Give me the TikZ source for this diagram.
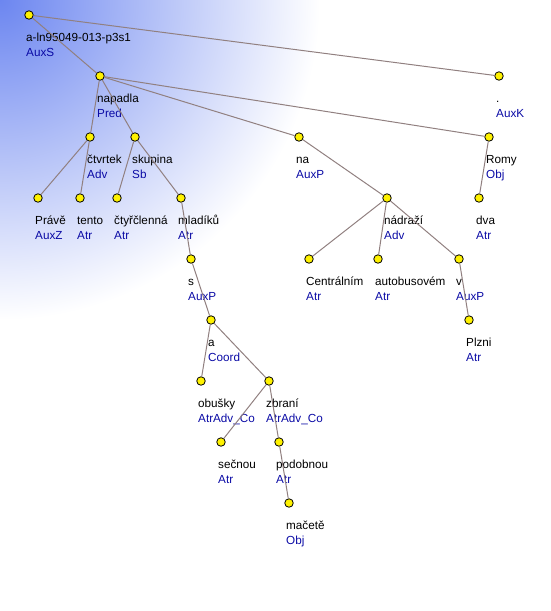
\documentclass[tikz,border=0pt]{standalone}
\usepackage{fontspec}
\setmainfont{Liberation Sans}
\usepackage{tikz}
\usetikzlibrary{calc}
\definecolor{glowblue}{RGB}{108,134,240}
\definecolor{funcblue}{RGB}{10,10,165}
\definecolor{edgegray}{RGB}{145,128,128}
\tikzset{>=latex}
\tikzset{
  tnode/.style={circle,draw=black,fill=yellow,line width=0.8pt,inner sep=0pt,minimum size=8.5pt},
  tlab/.style={anchor=base west,inner sep=0pt,font=\fontsize{11.7}{15}\selectfont},
  tedge/.style={draw=edgegray,line width=1pt}
}
\newcommand{\wordfn}[2]{\begin{tabular}[t]{@{}l@{}}#1\\\textcolor{funcblue}{#2}\end{tabular}}

\begin{document}
\begin{tikzpicture}[x=1pt,y=-1pt]
    \useasboundingbox (0,0) rectangle (551,611);
    \begin{scope}
      \clip (0,0) rectangle (551,611);
      \shade [inner color=glowblue,outer color=white] (0,0) circle (320);
    \end{scope}
    % tree nodes
    \node [tnode] (root) at (29,15) {};
    \node [tnode] (napadla) at (100,76) {};
    \node [tnode] (tecka) at (499,76) {};
    \node [tnode] (ctvrtek) at (90,137) {};
    \node [tnode] (skupina) at (135,137) {};
    \node [tnode] (na) at (299,137) {};
    \node [tnode] (romy) at (489,137) {};
    \node [tnode] (prave) at (38,198) {};
    \node [tnode] (tento) at (80,198) {};
    \node [tnode] (ctyrclenna) at (117,198) {};
    \node [tnode] (mladiku) at (181,198) {};
    \node [tnode] (nadrazi) at (387,198) {};
    \node [tnode] (dva) at (479,198) {};
    \node [tnode] (s) at (191,259) {};
    \node [tnode] (centralnim) at (309,259) {};
    \node [tnode] (autobusovem) at (378,259) {};
    \node [tnode] (v) at (459,259) {};
    \node [tnode] (a) at (211,320) {};
    \node [tnode] (plzni) at (469,320) {};
    \node [tnode] (obusky) at (201,381) {};
    \node [tnode] (zbrani) at (269,381) {};
    \node [tnode] (secnou) at (221,442) {};
    \node [tnode] (podobnou) at (279,442) {};
    \node [tnode] (macete) at (289,503) {};
    % labels
    \node [tlab] (root-l) at ($(root)+(-3,26)$) {\wordfn{a-ln95049-013-p3s1}{AuxS}};
    \node [tlab] (napadla-l) at ($(napadla)+(-3,26)$) {\wordfn{napadla}{Pred}};
    \node [tlab] (tecka-l) at ($(tecka)+(-3,26)$) {\wordfn{.}{AuxK}};
    \node [tlab] (ctvrtek-l) at ($(ctvrtek)+(-3,26)$) {\wordfn{čtvrtek}{Adv}};
    \node [tlab] (skupina-l) at ($(skupina)+(-3,26)$) {\wordfn{skupina}{Sb}};
    \node [tlab] (na-l) at ($(na)+(-3,26)$) {\wordfn{na}{AuxP}};
    \node [tlab] (romy-l) at ($(romy)+(-3,26)$) {\wordfn{Romy}{Obj}};
    \node [tlab] (prave-l) at ($(prave)+(-3,26)$) {\wordfn{Právě}{AuxZ}};
    \node [tlab] (tento-l) at ($(tento)+(-3,26)$) {\wordfn{tento}{Atr}};
    \node [tlab] (ctyrclenna-l) at ($(ctyrclenna)+(-3,26)$) {\wordfn{čtyřčlenná}{Atr}};
    \node [tlab] (mladiku-l) at ($(mladiku)+(-3,26)$) {\wordfn{mladíků}{Atr}};
    \node [tlab] (nadrazi-l) at ($(nadrazi)+(-3,26)$) {\wordfn{nádraží}{Adv}};
    \node [tlab] (dva-l) at ($(dva)+(-3,26)$) {\wordfn{dva}{Atr}};
    \node [tlab] (s-l) at ($(s)+(-3,26)$) {\wordfn{s}{AuxP}};
    \node [tlab] (centralnim-l) at ($(centralnim)+(-3,26)$) {\wordfn{Centrálním}{Atr}};
    \node [tlab] (autobusovem-l) at ($(autobusovem)+(-3,26)$) {\wordfn{autobusovém}{Atr}};
    \node [tlab] (v-l) at ($(v)+(-3,26)$) {\wordfn{v}{AuxP}};
    \node [tlab] (a-l) at ($(a)+(-3,26)$) {\wordfn{a}{Coord}};
    \node [tlab] (plzni-l) at ($(plzni)+(-3,26)$) {\wordfn{Plzni}{Atr}};
    \node [tlab] (obusky-l) at ($(obusky)+(-3,26)$) {\wordfn{obušky}{AtrAdv\_Co}};
    \node [tlab] (zbrani-l) at ($(zbrani)+(-3,26)$) {\wordfn{zbraní}{AtrAdv\_Co}};
    \node [tlab] (secnou-l) at ($(secnou)+(-3,26)$) {\wordfn{sečnou}{Atr}};
    \node [tlab] (podobnou-l) at ($(podobnou)+(-3,26)$) {\wordfn{podobnou}{Atr}};
    \node [tlab] (macete-l) at ($(macete)+(-3,26)$) {\wordfn{mačetě}{Obj}};
    % edges
    \draw [tedge] (root) -- (napadla);
    \draw [tedge] (root) -- (tecka);
    \draw [tedge] (napadla) -- (ctvrtek);
    \draw [tedge] (napadla) -- (skupina);
    \draw [tedge] (napadla) -- (na);
    \draw [tedge] (napadla) -- (romy);
    \draw [tedge] (ctvrtek) -- (prave);
    \draw [tedge] (ctvrtek) -- (tento);
    \draw [tedge] (skupina) -- (ctyrclenna);
    \draw [tedge] (skupina) -- (mladiku);
    \draw [tedge] (mladiku) -- (s);
    \draw [tedge] (s) -- (a);
    \draw [tedge] (a) -- (obusky);
    \draw [tedge] (a) -- (zbrani);
    \draw [tedge] (zbrani) -- (secnou);
    \draw [tedge] (zbrani) -- (podobnou);
    \draw [tedge] (podobnou) -- (macete);
    \draw [tedge] (na) -- (nadrazi);
    \draw [tedge] (nadrazi) -- (centralnim);
    \draw [tedge] (nadrazi) -- (autobusovem);
    \draw [tedge] (nadrazi) -- (v);
    \draw [tedge] (v) -- (plzni);
    \draw [tedge] (romy) -- (dva);
  \end{tikzpicture}
\end{document}
